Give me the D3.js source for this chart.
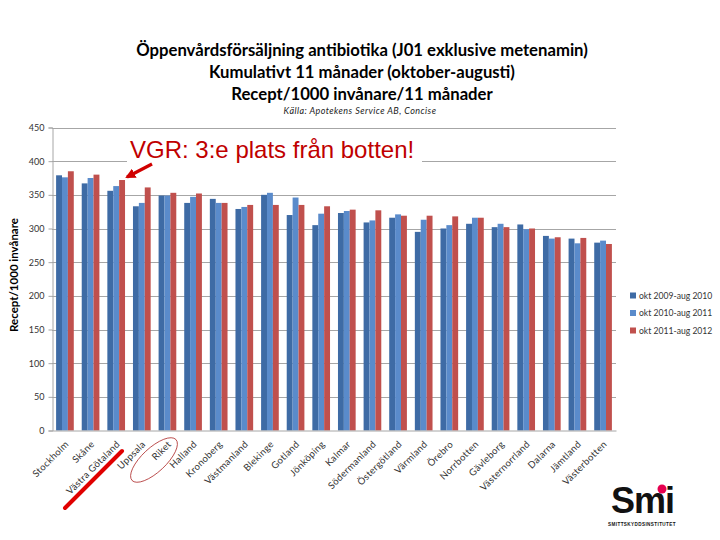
<!DOCTYPE html>
<html><head><meta charset="utf-8">
<script src="https://cdn.jsdelivr.net/npm/d3@7"></script>
<style>body{margin:0;background:#fff}svg{display:block}</style>
</head><body>
<script>
const categories = ["Stockholm","Skåne","Västra Götaland","Uppsala","Riket","Halland","Kronoberg","Västmanland","Blekinge","Gotland","Jönköping","Kalmar","Södermanland","Östergötland","Värmland","Örebro","Norrbotten","Gävleborg","Västernorrland","Dalarna","Jämtland","Västerbotten"];
const seriesNames = ["okt 2009-aug 2010","okt 2010-aug 2011","okt 2011-aug 2012"];
const s2010 = [379,367,356,333,349,338,344,329,350,320,305,323,309,316,295,300,307,302,306,289,285,279];
const s2011 = [376,375,363,338,349,347,338,332,353,346,322,326,312,321,313,305,316,307,299,285,278,282];
const s2012 = [385,380,372,361,353,352,338,335,335,335,333,328,327,319,319,318,316,302,300,287,286,277];
const yTicks = [0,50,100,150,200,250,300,350,400,450];
const titleLines = ["Öppenvårdsförsäljning antibiotika (J01 exklusive metenamin)","Kumulativt 11 månader (oktober-augusti)","Recept/1000 invånare/11 månader"];
const sourceText = "Källa: Apotekens Service AB, Concise";
const yTitle = "Recept/1000 invånare";
const annotation = "VGR: 3:e plats från botten!";

const colors = ["#3E6BA5","#5A8BCB","#C0504D"];
const series = [s2010,s2011,s2012];

const W=720,H=540;
const svg=d3.select("body").append("svg").attr("width",W).attr("height",H);
const m={l:52,r:616,t:127.5,b:430.5};

const x=d3.scaleBand().domain(categories).range([m.l,m.r]).paddingInner(0.31).paddingOuter(0.16);
const xs=d3.scaleBand().domain([0,1,2]).range([0,x.bandwidth()]);
const y=d3.scaleLinear().domain([0,450]).range([m.b,m.t]);

// title
const tf="Lato, 'Open Sans', sans-serif";
svg.selectAll("text.title").data(titleLines).join("text")
 .attr("x",362).attr("y",(d,i)=>56+i*22).attr("text-anchor","middle")
 .attr("font-family",tf).attr("font-weight","bold").attr("font-size",16.7).attr("fill","#000").text(d=>d);
svg.append("text").attr("x",360).attr("y",114).attr("text-anchor","middle")
 .attr("font-family",tf).attr("font-style","italic").attr("font-size",9).attr("letter-spacing",0.45).attr("fill","#222").text(sourceText);

// gridlines
svg.append("g").selectAll("line").data(yTicks.filter(d=>d>0)).join("line")
 .attr("x1",m.l).attr("x2",m.r).attr("y1",d=>Math.round(y(d))+0.5).attr("y2",d=>Math.round(y(d))+0.5)
 .attr("stroke","#A6A6A6").attr("stroke-width",1);

// y axis
const ya=svg.append("g").attr("transform",`translate(${m.l+0.5},0)`)
 .call(d3.axisLeft(y).tickValues(yTicks).tickSize(4).tickPadding(4));
ya.select(".domain").attr("stroke","#A6A6A6");
ya.selectAll(".tick line").attr("stroke","#A6A6A6");
ya.selectAll("text").attr("font-family",tf).attr("font-size",9).attr("fill","#333");

svg.append("text").attr("transform","translate(18,275) rotate(-90)").attr("text-anchor","middle")
 .attr("font-family",tf).attr("font-weight","bold").attr("font-size",11.5).attr("fill","#000").text(yTitle);

// bars
series.forEach((s,si)=>{
  svg.append("g").selectAll("rect").data(s).join("rect")
   .attr("x",(d,i)=>x(categories[i])+xs(si)).attr("width",xs.bandwidth())
   .attr("y",d=>y(d)).attr("height",d=>m.b-y(d)).attr("fill",colors[si]);
});

// x axis
const xa=svg.append("g").attr("transform",`translate(0,${m.b})`).call(d3.axisBottom(x).tickSize(0).tickPadding(0));
xa.select(".domain").attr("stroke","#A6A6A6");
xa.selectAll("text").attr("font-family",tf).attr("font-size",9.5).attr("letter-spacing",0.3).attr("fill","#333")
 .attr("text-anchor","end").attr("transform","translate(2,12) rotate(-45)").attr("dy","0.35em").attr("y",0);

// legend
const lg=svg.append("g");
seriesNames.forEach((n,i)=>{
  const ly=296+i*17.5;
  lg.append("rect").attr("x",630).attr("y",ly-3.5).attr("width",6).attr("height",6).attr("fill",colors[i]);
  lg.append("text").attr("x",639).attr("y",ly+2.5).attr("font-family",tf).attr("font-size",8.6).attr("fill","#333").text(n);
});

// annotation
svg.append("rect").attr("x",127).attr("y",134).attr("width",295).attr("height",30).attr("fill","#fff");
svg.append("text").attr("x",130).attr("y",158).attr("font-family","'Liberation Sans', Arial, sans-serif")
 .attr("font-size",24).attr("fill","#C00000").text(annotation);
const vgIdx=categories.indexOf("Västra Götaland");
const ax=x(categories[vgIdx])+xs(2)+xs.bandwidth(), ay=y(s2012[vgIdx])-3;
svg.append("defs").append("marker").attr("id","ah").attr("viewBox","0 0 10 10").attr("refX",8).attr("refY",5)
 .attr("markerWidth",3.2).attr("markerHeight",3.2).attr("orient","auto")
 .append("path").attr("d","M0,0L10,5L0,10z").attr("fill","#D00000");
svg.append("line").attr("x1",152).attr("y1",164).attr("x2",ax+2).attr("y2",ay).attr("stroke","#D00000").attr("stroke-width",3.2).attr("marker-end","url(#ah)");

// red stroke under VG label
svg.append("line").attr("x1",122).attr("y1",451).attr("x2",65).attr("y2",508).attr("stroke","#E00000").attr("stroke-width",4).attr("stroke-linecap","round");
// ellipse around Riket
svg.append("ellipse").attr("cx",0).attr("cy",0).attr("rx",30).attr("ry",12)
 .attr("transform",`translate(154,460) rotate(-43)`).attr("fill","none").attr("stroke","#B03030").attr("stroke-width",0.8);

// logo
svg.append("text").attr("x",611).attr("y",513).attr("font-family","'Liberation Sans', Arial, sans-serif").attr("font-weight","bold")
 .attr("font-size",36).attr("letter-spacing",-1).attr("fill","#111").text("Smi");
svg.append("circle").attr("cx",662).attr("cy",489).attr("r",4.5).attr("fill","#E5004F");
svg.append("text").attr("x",642).attr("y",525.5).attr("text-anchor","middle").attr("font-family","'Liberation Sans', Arial, sans-serif").attr("font-weight","bold")
 .attr("font-size",4.6).attr("letter-spacing",0.4).attr("fill","#111").text("SMITTSKYDDSINSTITUTET");
</script>
</body></html>
